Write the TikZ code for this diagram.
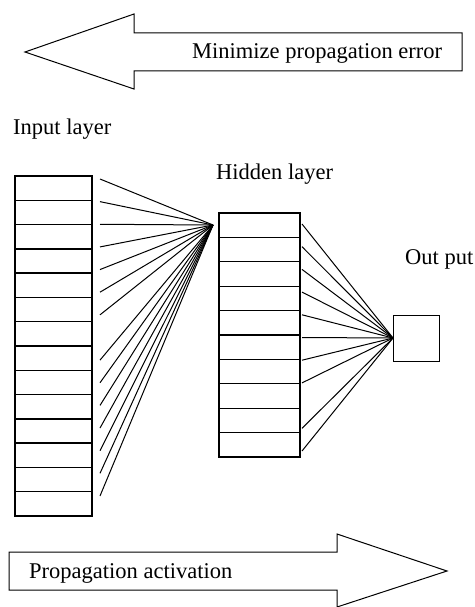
\documentclass[tikz,border=0pt]{standalone}
\usepackage{fontspec}
\setmainfont{Liberation Serif}
\begin{document}
\begin{tikzpicture}[x=1pt,y=-1pt,
  cellbox/.style={draw,line width=1.3pt,minimum width=77pt,minimum height=24.3pt,inner sep=0pt,outer sep=0pt},
  hcell/.style={draw,line width=1.3pt,minimum width=81pt,minimum height=24.4pt,inner sep=0pt,outer sep=0pt},
  outbox/.style={draw,line width=1pt,minimum width=46pt,minimum height=46pt,inner sep=0pt,outer sep=0pt},
  lab/.style={font=\fontsize{22.5}{26}\selectfont,inner sep=0pt,anchor=base west},
  wire/.style={line width=1pt},
  bigarrow/.style={draw,line width=1pt}]
\useasboundingbox (0,0) rectangle (474,607);
% top arrow
\draw[bigarrow] (25,52) -- (134,14) -- (134,33) -- (462,33) -- (462,71) -- (134,71) -- (134,89) -- cycle;
\node[lab] (minerr) at (192,59) {Minimize propagation error};
% bottom arrow
\draw[bigarrow] (9,552) -- (337,552) -- (337,534) -- (447,571) -- (337,607) -- (337,590) -- (9,590) -- cycle;
\node[lab] (propact) at (29,578) {Propagation activation};
% labels
\node[lab] (inlab) at (13,135) {Input layer};
\node[lab] (hidlab) at (216,179) {Hidden layer};
\node[lab] (outlab) at (405,264) {Out put};
% input layer
\foreach \i in {1,...,14}{
  \node[cellbox] (in\i) at (53.5,{176+24.286*(\i-0.5)}) {};
}
% hidden layer
\foreach \i in {1,...,10}{
  \node[hcell] (hid\i) at (259.5,{213+24.4*(\i-0.5)}) {};
}
% output
\node[outbox] (out) at (416,338) {};
% convergence point on hidden layer side
\coordinate (hconv) at (213,225);
% input wires
\foreach \k in {0,1,2,3,4,5,6,8,9,10,11,12,13,14}{
  \coordinate (is\k) at (100,{179+22.64*\k});
  \draw[wire] (is\k) -- (hconv);
}
% hidden wires
\foreach \k in {0,1,2,3,4,5,6,7,9,10}{
  \coordinate (hs\k) at (302,{224+22.7*\k});
  \draw[wire] (hs\k) -- (out.west);
}
\end{tikzpicture}
\end{document}
